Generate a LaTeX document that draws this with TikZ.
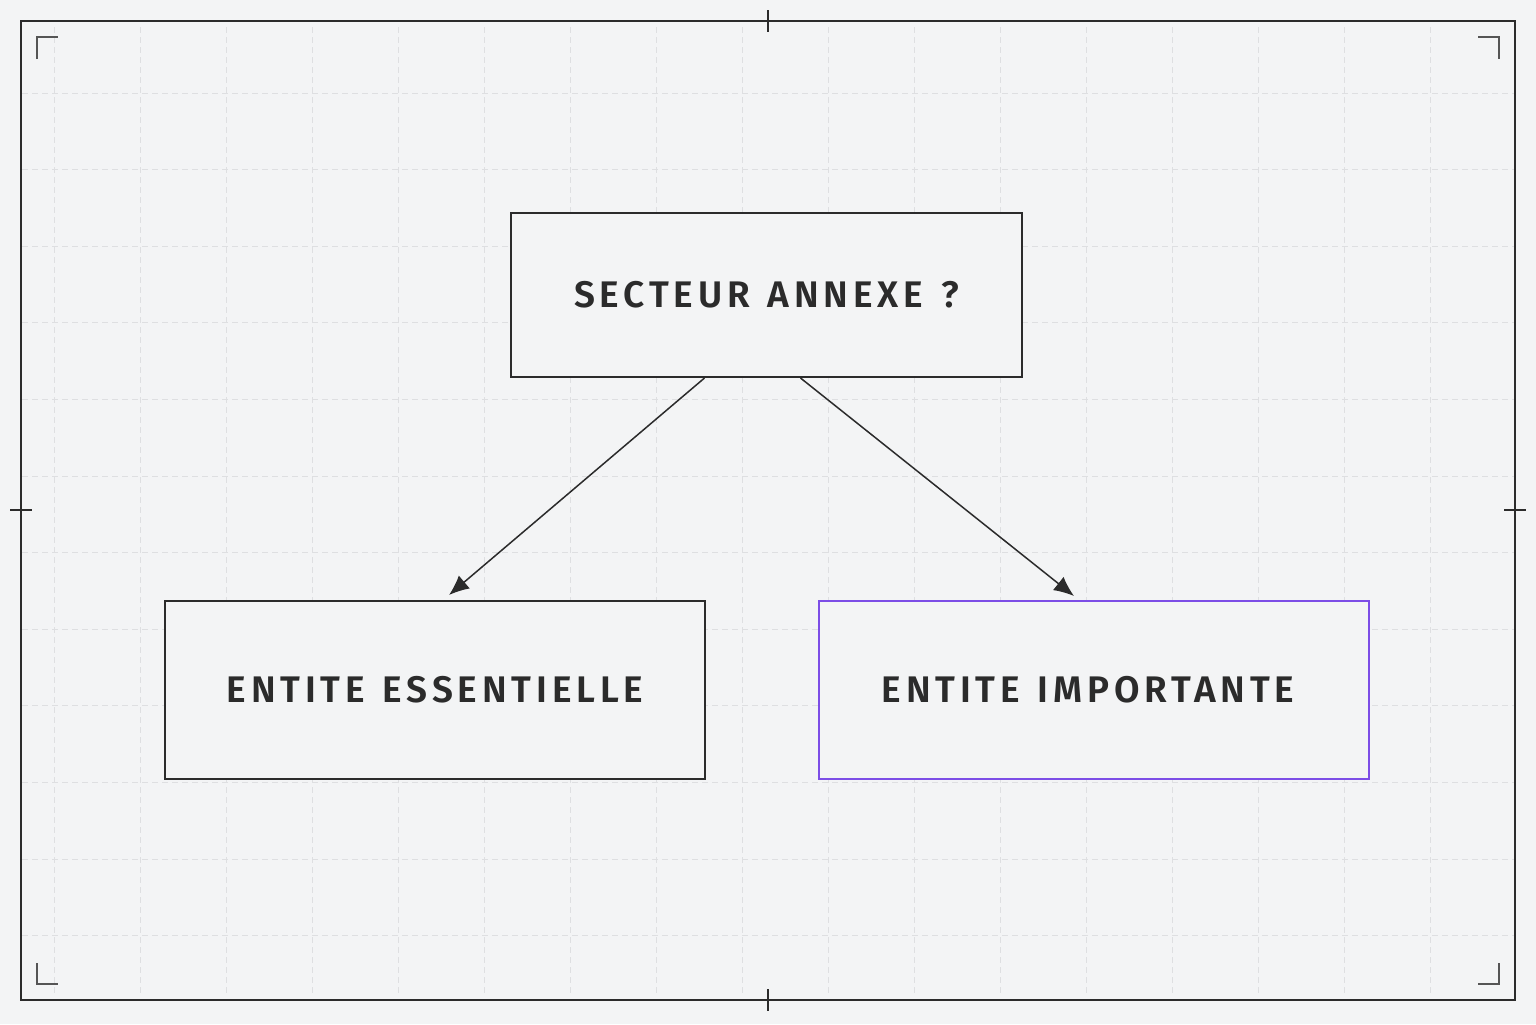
\documentclass[tikz,border=0pt]{standalone}
\usepackage{fontspec}
\usetikzlibrary{arrows.meta,positioning}
\setmainfont{Fira Sans}
\newfontfamily\boxfont{Fira Sans SemiBold}[LetterSpace=13,WordSpace=1.3]
\definecolor{paper}{HTML}{F3F4F5}
\definecolor{ink}{HTML}{2B2B2B}
\definecolor{gridgray}{HTML}{DEDFE1}
\definecolor{violet}{HTML}{7C4DE6}

\begin{document}
\begin{tikzpicture}[x=0.5pt, y=-0.5pt, thick,
  box/.style = {draw=ink, line width=1pt, fill=paper, inner sep=0pt,
    text=ink, font=\boxfont\fontsize{18.5}{20}\selectfont},
  link/.style = {draw=ink, line width=0.75pt, -{Latex[length=10pt,width=8.5pt]}},
  corner/.style = {draw=ink!80, line width=1pt},
  gridline/.style = {draw=gridgray, line width=0.4pt, dash pattern=on 3pt off 2pt}]
% background and frame
\fill[paper] (0,0) rectangle (1536,1024);
\foreach \gx in {0,...,16} \draw[gridline] ({54+86*\gx},27) -- ({54+86*\gx},995);
\foreach \gy in {0,...,11} \draw[gridline] (22,{93+76.6*\gy}) -- (1514,{93+76.6*\gy});
\draw[ink, line width=0.75pt] (21,21) rectangle (1515,1000);
% corner marks
\draw[corner] (37,59) -- (37,37) -- (58,37);
\draw[corner] (1478,37) -- (1499,37) -- (1499,59);
\draw[corner] (37,963) -- (37,984) -- (58,984);
\draw[corner] (1478,984) -- (1499,984) -- (1499,963);
% center ticks
\draw[ink, line width=0.6pt] (768,10) -- (768,32);
\draw[ink, line width=0.6pt] (768,989) -- (768,1011);
\draw[ink, line width=0.6pt] (10,510) -- (32,510);
\draw[ink, line width=0.6pt] (1504,510) -- (1526,510);
% nodes
\node[box, minimum width=255.5pt, minimum height=82pt] (secteur) at (766.5,295) {SECTEUR ANNEXE ?};
\node[box, minimum width=270pt, minimum height=89pt] (essentielle) at (435,690) {ENTITE ESSENTIELLE};
\node[box, draw=violet, minimum width=275pt, minimum height=89pt] (importante) at (1094,690) {\hspace*{-6pt}ENTITE IMPORTANTE};
% arrows
\draw[link] ([xshift=-31pt]secteur.south) -- ([xshift=7pt,yshift=2.5pt]essentielle.north);
\draw[link] ([xshift=17pt]secteur.south) -- ([xshift=-10pt,yshift=2pt]importante.north);
\end{tikzpicture}
\end{document}
